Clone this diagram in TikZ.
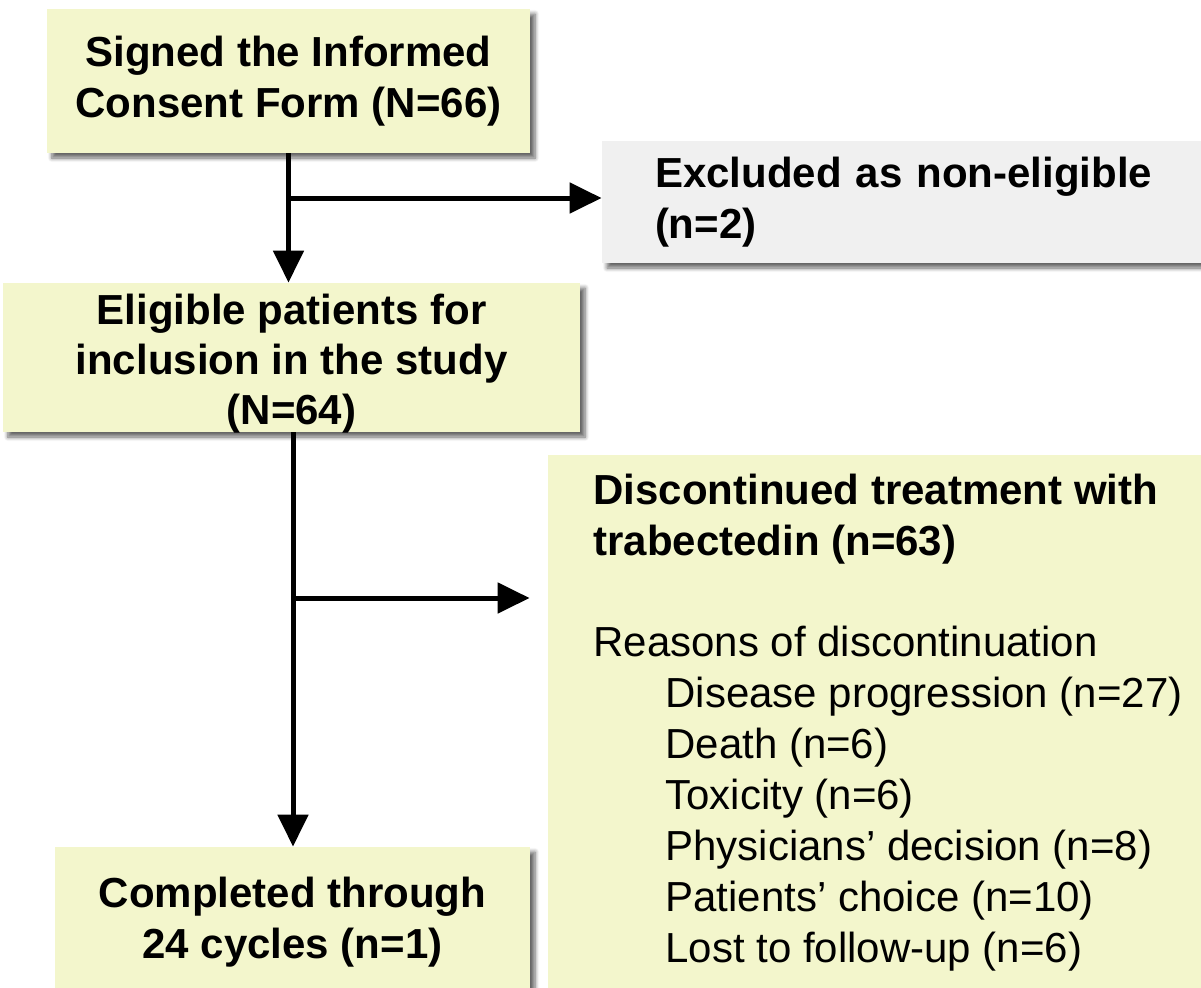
\documentclass[tikz,border=0pt]{standalone}
\usepackage{fontspec}
\setmainfont{Liberation Sans}
\usetikzlibrary{arrows.meta,shadows.blur}

\definecolor{boxyellow}{HTML}{F3F6CC}
\definecolor{boxgrey}{HTML}{F0F0F0}

\tikzset{
  flowbox/.style={rectangle, fill=boxyellow, inner sep=0pt, align=center,
    font=\fontsize{21}{25.5}\selectfont\bfseries,
    blur shadow={shadow xshift=2.5pt, shadow yshift=-2.5pt, shadow blur steps=6, shadow opacity=60}},
  greybox/.style={flowbox, fill=boxgrey, align=left},
  plaintext/.style={inner sep=0pt, font=\fontsize{21}{25.5}\selectfont},
  flowline/.style={line width=2.5pt},
  flowarrow/.style={line width=2.5pt, -{Triangle[length=16pt,width=15pt]}},
}

\begin{document}
\begin{tikzpicture}[x=0.5pt, y=-0.5pt]
    \useasboundingbox (0,0) rectangle (1201,987);

    %%   (label)  (x, y)  {text}
    \node[flowbox, minimum width=241.5pt, minimum height=72pt] (signed)    at (288.5,  81) {Signed the Informed\\Consent Form (N=66)};
    \node[greybox, minimum height=61pt, inner xsep=26.5pt, text width=251pt] (excluded) at (906, 202) {Excluded as non-eligible\\(n=2)};
    \node[flowbox, minimum width=288.5pt, minimum height=74.5pt] (eligible) at (291.5, 357.5) {};
    \node[flowbox, minimum width=237.5pt, minimum height=75pt] (completed) at (292.5, 922) {Completed through\\24 cycles (n=1)};
    \node[flowbox, minimum width=331pt, minimum height=270pt]  (discbox)   at (879,   725) {};

    \node[plaintext, font=\fontsize{21}{25}\selectfont\bfseries, align=center, anchor=north] (eligibletext) at (291.5, 294)
        {Eligible patients for\\inclusion in the study\\(N=64)};
    \node[plaintext, align=left, anchor=north west] (disctext) at (593, 474)
        {\textbf{Discontinued treatment with}\\\textbf{trabectedin (n=63)}\\[25pt]
         Reasons of discontinuation\\
         \hspace*{36pt}Disease progression (n=27)\\
         \hspace*{36pt}Death (n=6)\\
         \hspace*{36pt}Toxicity (n=6)\\
         \hspace*{36pt}Physicians' decision (n=8)\\
         \hspace*{36pt}Patients' choice (n=10)\\
         \hspace*{36pt}Lost to follow-up (n=6)};

    \coordinate (split1) at (288.5, 198);
    \coordinate (split2) at (293, 598);

    \draw[flowline]  (signed.south) -- (split1);
    \draw[flowarrow] (split1) -- (split1 |- eligible.north);
    \draw[flowarrow] (split1) -- (split1 -| excluded.west);
    %
    \draw[flowline]  (eligible.south -| split2) -- (split2);
    \draw[flowarrow] (split2) -- (split2 |- completed.north);
    \draw[flowarrow, shorten >=9pt] (split2) -- (split2 -| discbox.west);

\end{tikzpicture}
\end{document}
